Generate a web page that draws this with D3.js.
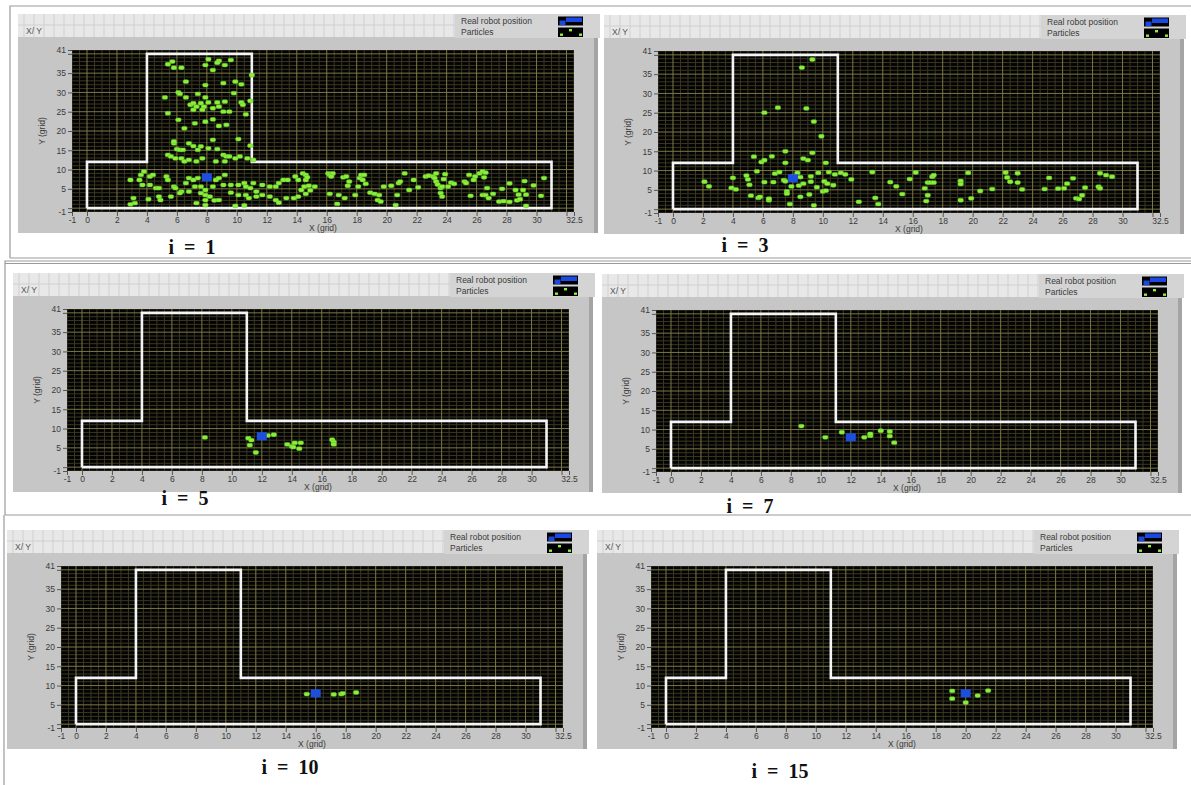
<!DOCTYPE html>
<html>
<head>
<meta charset="utf-8">
<script src="https://cdn.jsdelivr.net/npm/d3@7"></script>
<style>
  body { margin: 0; background: #fff; }
  svg { display: block; font-family: "Liberation Sans", Arial, sans-serif; }
</style>
</head>
<body>
<svg id="fig" width="1191" height="785"></svg>
<script>
// Filter iteration shown in each graph
const iterations = [1, 3, 5, 7, 10, 15];

// True robot position per iteration (grid units)
const robotX = [8, 8, 12, 12, 16, 20];
const robotY = [8, 8, 8, 8, 8, 8];

// T-shaped corridor outline (grid units)
const wallX = [0, 0, 4, 4, 11, 11, 31, 31, 0];
const wallY = [0, 12, 12, 40, 40, 12, 12, 0, 0];

// Axis tick labels
const xTickLabels = [-1, 0, 2, 4, 6, 8, 10, 12, 14, 16, 18, 20, 22, 24, 26, 28, 30, 32.5];
const yTickLabels = [-1, 5, 10, 15, 20, 25, 30, 35, 41];

// Particle sets [x, y] for each iteration
const particlesI1 = [
  [5.4,37.3],[5.7,38.0],[5.8,36.4],[6.3,36.4],[8.1,38.6],[8.8,38.2],[8.7,37.7],[9.6,38.4],[7.9,37.1],[8.4,35.8],[9.2,37.1],
  [11.0,34.5],[6.6,32.8],[7.9,31.9],[9.1,32.4],[9.9,32.8],[10.3,32.1],
  [6.1,30.0],[6.2,29.6],[5.2,28.7],[6.6,28.7],[7.4,29.6],[7.9,28.7],[8.1,27.4],[8.7,27.4],[9.2,27.6],[9.8,29.8],[10.3,27.4],[10.4,26.8],[10.9,27.8],
  [6.9,26.8],[7.1,27.2],[7.3,26.3],[7.6,27.2],[7.8,26.3],[7.1,25.5],[7.7,25.5],[8.4,25.9],[8.8,26.3],[9.1,25.0],[9.5,25.0],
  [5.4,24.6],[6.1,22.9],[6.5,20.7],[7.2,22.0],[7.9,22.4],[8.4,23.0],[8.8,21.3],[9.3,21.6],[10.6,24.3],
  [10.1,17.9],[10.9,16.2],[8.4,17.7],
  [5.8,16.8],[5.8,17.3],[6.0,15.3],[6.2,15.1],[6.4,15.1],[6.8,16.8],[7.1,16.1],[7.6,16.0],[7.4,15.1],[8.1,15.5],[8.7,15.3],
  [9.1,13.8],[9.3,13.4],[9.5,13.4],[9.9,12.9],[10.2,13.4],[10.7,12.9],[11.1,12.5],
  [5.4,13.8],[5.6,13.4],[5.9,12.9],[6.3,12.9],[6.5,12.1],[6.8,12.5],[7.3,12.1],[7.7,12.9],[8.6,12.1],[9.2,12.1],
  [2.9,7.3],[3.6,8.6],[3.8,9.5],[4.2,8.2],[4.4,8.6],[3.5,7.3],[3.7,6.0],[4.2,6.0],[4.6,5.2],[4.8,5.2],[5.3,8.2],[5.4,7.3],
  [5.8,5.6],[5.9,5.2],[6.3,4.3],[6.6,6.5],[6.8,7.8],[7.1,7.3],[7.4,7.8],[7.2,5.6],[7.6,5.6],[7.9,4.7],[8.4,5.6],[8.6,7.3],
  [8.8,7.8],[9.2,8.6],[9.1,6.0],[9.6,6.0],[10.1,6.0],[10.5,6.5],[10.6,5.6],[10.9,5.2],[11.1,6.5],[11.3,4.3],[11.7,6.0],
  [12.2,5.6],[12.6,5.6],[12.8,6.5],[13.1,7.3],[13.4,7.3],[13.9,8.2],[14.1,7.3],[14.6,7.3],
  [3.1,2.6],[3.2,1.3],[2.9,1.0],[4.1,2.3],[4.8,3.0],[4.9,2.1],[5.6,3.0],[6.2,3.9],[6.8,4.3],[7.6,3.9],[7.9,3.4],[8.2,3.0],
  [7.9,2.1],[8.5,2.0],[8.8,2.1],[9.6,4.0],[10.1,3.4],[10.6,3.4],[10.8,2.6],[11.3,3.0],[11.7,3.4],[12.2,3.0],[12.6,2.1],
  [12.8,1.4],[13.3,2.6],[13.8,2.6],[14.1,3.0],[7.3,1.3],[7.9,0.8],[9.9,0.6],[10.5,0.7],
  [14.4,9.0],[14.6,8.6],[14.7,8.0],[14.5,5.6],[14.3,4.7],[14.8,5.8],[15.2,5.6],[14.9,4.6],[14.6,3.7],
  [16.1,9.0],[16.2,8.6],[16.4,9.0],[16.3,8.2],[17.1,8.0],[17.3,8.2],[17.5,6.9],[17.4,5.8],[18.2,7.8],[18.3,8.6],[18.5,8.6],
  [18.4,7.3],[18.6,6.3],[18.1,5.6],[16.2,3.7],[16.8,3.4],[17.2,2.6],[16.7,1.1],[17.9,3.4],[18.9,4.0],[19.2,3.7],[19.5,3.4],
  [19.4,2.1],[19.6,1.7],[19.8,5.6],[20.3,5.8],[20.8,6.5],[20.9,6.9],[20.7,3.4],[20.6,0.8],[21.2,9.0],[21.5,4.7],[21.8,7.3],
  [22.1,5.4],[22.6,8.2],[22.8,8.4],[23.1,8.2],[23.3,9.0],[23.2,7.8],[23.3,6.9],[23.4,6.1],[23.6,5.2],[23.7,5.6],[23.9,8.8],
  [23.8,7.5],[24.1,5.6],[24.3,6.6],[24.5,6.3],[23.6,3.9],[23.7,3.0],[25.2,6.9],[25.3,6.5],[25.5,8.6],[25.9,8.2],[26.2,9.0],
  [26.4,9.5],[26.6,9.2],[26.5,8.0],[25.8,7.3],[25.6,3.2],[26.4,3.4],[26.6,3.4],[26.8,2.6],[27.1,3.7],[26.7,5.2],[27.7,5.0],
  [28.2,6.4],[28.6,4.7],[28.8,3.5],[29.1,4.7],[29.3,3.5],[29.2,7.0],[29.8,5.9],[30.3,3.2],[30.5,7.8],[27.5,1.7],[27.8,1.8],
  [28.2,1.6],[28.7,2.0],[28.9,2.3],[29.3,0.6]
];
const particlesI3 = [
  [9.3,38.8],[8.6,36.7],[7.0,26.3],[6.1,25.0],[8.9,26.1],[9.4,22.7],[9.9,18.9],[9.3,14.6],[7.5,15.0],[6.6,13.7],
  [5.4,13.6],[5.9,12.2],[6.1,12.7],[8.7,13.1],[9.0,12.7],[7.5,12.0],[10.2,12.0],[5.6,9.8],[6.8,9.2],[7.1,9.6],
  [2.1,7.1],[2.4,5.9],[4.0,8.1],[3.9,5.5],[4.2,5.1],[4.9,8.7],[5.0,7.7],[5.1,6.3],[6.1,7.0],[6.7,7.0],[7.4,7.5],
  [7.5,7.2],[7.6,4.6],[7.6,4.0],[5.2,3.5],[5.7,2.9],[5.8,3.2],[6.4,2.3],[6.4,2.7],[7.8,1.3],[8.0,8.5],[8.3,9.4],
  [8.5,8.3],[7.9,5.9],[8.4,6.1],[8.7,6.6],[9.2,8.5],[9.2,7.1],[9.6,5.7],[9.7,9.4],[10.4,9.6],[10.8,9.0],[11.2,9.4],
  [11.5,9.0],[11.9,7.7],[10.1,7.2],[10.3,6.6],[10.7,6.2],[10.0,4.6],[10.2,4.8],[8.5,3.2],[9.1,3.8],[9.4,1.0],
  [12.4,1.9],[13.3,9.6],[13.5,2.9],[13.7,1.3],[14.5,7.0],[14.9,5.9],
  [15.3,3.9],[15.8,7.8],[16.2,9.5],[16.8,5.4],[16.9,2.1],[17.0,3.6],[17.0,6.9],[17.2,6.9],[17.4,6.9],[17.3,8.4],
  [17.4,8.8],[19.2,7.3],[19.2,6.5],[19.2,2.3],[19.7,9.4],[19.9,2.8],[20.5,4.7],[21.3,5.2],[22.2,9.5],[22.3,8.2],
  [22.5,7.1],[23.0,9.3],[23.0,6.9],[23.3,5.1],[24.8,5.2],[25.1,8.1],[25.7,5.3],[26.1,5.4],[26.3,6.6],[26.7,8.0],
  [26.9,2.8],[27.1,2.6],[27.3,3.6],[27.5,5.6],[28.4,5.8],[28.5,5.4],[28.5,9.3],[28.9,8.8],[29.3,8.4]
];
const particlesI5 = [
  [8.2,7.7],[11.1,7.5],[11.3,7.0],[11.2,5.7],[11.6,3.8],[12.4,8.2],[12.8,8.4],[13.7,5.9],[14.0,5.4],
  [14.2,6.3],[14.6,6.3],[14.1,5.2],[14.5,4.8],[16.7,7.1],[16.8,6.5],[16.8,5.9]
];
const particlesI7 = [
  [8.7,10.9],[10.3,8.0],[11.4,9.3],[12.9,8.0],[13.3,8.4],[13.3,8.9],[14.0,9.7],[14.6,9.5],[14.6,8.3],[14.9,6.6]
];
const particlesI10 = [[15.4,7.8],[17.2,7.7],[17.7,7.8],[17.8,8.0],[18.7,8.2]];
const particlesI15 = [[19.1,8.6],[19.1,6.6],[20.0,5.6],[20.8,7.4],[21.5,8.7]];

const particleSets = [particlesI1, particlesI3, particlesI5, particlesI7, particlesI10, particlesI15];

// Graph placement on the page: plot-area origin and caption centre
const W = 502, H = 162;
const layout = [
  { px: 72,  py: 50,  cx: 192, cy: 247 },
  { px: 658, py: 51,  cx: 745, cy: 245 },
  { px: 67,  py: 309, cx: 185, cy: 498 },
  { px: 656, py: 310, cx: 750, cy: 506 },
  { px: 61,  py: 566, cx: 290, cy: 767 },
  { px: 651, py: 566, cx: 780, cy: 771 }
];

const svg = d3.select("#fig");

// Figure frames around each row
const frame = svg.append("g").attr("fill", "none").attr("stroke", "#9a9a9a").attr("stroke-width", 1.2);
frame.append("path").attr("d", "M10,258 V6 H1191");
frame.append("path").attr("d", "M10,258 H1191");
frame.append("path").attr("d", "M5,515 V261 H1191 M5,263.5 H1191 M5,515 H1191");
frame.append("path").attr("d", "M4,515 V785");

const defs = svg.append("defs");

const x = d3.scaleLinear().domain([-1, 32.5]).range([0, W]);
const y = d3.scaleLinear().domain([-1, 41]).range([H, 0]);

layout.forEach((L, k) => {
  const g = svg.append("g").attr("transform", `translate(${L.px},${L.py})`);
  const gx = -54, gr = 526;

  // Control body
  g.append("rect").attr("x", gx).attr("y", -36).attr("width", gr - gx).attr("height", H + 57)
    .attr("fill", "#c6c6c6");
  g.append("rect").attr("x", gr - 4).attr("y", -13).attr("width", 4).attr("height", H + 34)
    .attr("fill", "#a4a4a4");
  // Title strip with its faint grid
  g.append("rect").attr("x", gx).attr("y", -36).attr("width", gr - gx).attr("height", 23)
    .attr("fill", "#e8e8e8");
  const strip = g.append("g").attr("stroke", "#d0d0d0").attr("stroke-width", 1);
  d3.range(gx + 6, gr, 10).forEach(v => {
    strip.append("line").attr("x1", v).attr("x2", v).attr("y1", -36).attr("y2", -13);
  });
  strip.append("line").attr("x1", gx).attr("x2", gr).attr("y1", -25).attr("y2", -25);
  g.append("text").attr("x", gx + 8).attr("y", -16).attr("font-size", 8.5).attr("fill", "#555")
    .text("X/ Y");

  // Legend
  const lg = g.append("g").attr("transform", `translate(${W - 119},-36)`);
  lg.append("rect").attr("width", 145).attr("height", 24).attr("fill", "#d4d4d4");
  lg.append("text").attr("x", 6).attr("y", 9.5).attr("font-size", 8.5).attr("fill", "#3a3a3a").text("Real robot position");
  lg.append("text").attr("x", 6).attr("y", 21).attr("font-size", 8.5).attr("fill", "#3a3a3a").text("Particles");
  lg.append("rect").attr("x", 103).attr("y", 2.5).attr("width", 25).attr("height", 9).attr("fill", "#000");
  lg.append("rect").attr("x", 104.5).attr("y", 6.5).attr("width", 6).attr("height", 4.5).attr("fill", "#1a48e0");
  lg.append("rect").attr("x", 111).attr("y", 3.5).attr("width", 16).attr("height", 4.5).attr("fill", "#1a48e0");
  lg.append("rect").attr("x", 103).attr("y", 13.5).attr("width", 25).attr("height", 9.5).attr("fill", "#000");
  [[105, 19.5], [114, 15], [124, 19.5]].forEach(d => {
    lg.append("rect").attr("x", d[0]).attr("y", d[1]).attr("width", 3).attr("height", 2.4).attr("fill", "#8ef03c");
  });

  // Plot area
  g.append("rect").attr("width", W).attr("height", H).attr("fill", "#030303");
  const clipId = "clip" + k;
  defs.append("clipPath").attr("id", clipId).append("rect").attr("width", W).attr("height", H);
  const plot = g.append("g").attr("clip-path", `url(#${clipId})`);

  // Minor then major grid lines
  const minorX = d3.range(-1, 32.51, 0.5).filter(v => !(v >= 0 && v <= 32 && v % 2 === 0));
  const minorY = d3.range(-1, 41.01, 1).filter(v => v % 5 !== 0);
  const majorX = d3.range(0, 32.01, 2);
  const majorY = d3.range(0, 40.01, 5);
  plot.append("g").attr("stroke", "#3a3822").attr("stroke-width", 1)
    .selectAll("line").data(minorX).join("line")
    .attr("x1", d => x(d)).attr("x2", d => x(d)).attr("y1", 0).attr("y2", H);
  plot.append("g").attr("stroke", "#3a3822").attr("stroke-width", 1)
    .selectAll("line").data(minorY).join("line")
    .attr("y1", d => y(d)).attr("y2", d => y(d)).attr("x1", 0).attr("x2", W);
  plot.append("g").attr("stroke", "#7c7842").attr("stroke-width", 1)
    .selectAll("line").data(majorX).join("line")
    .attr("x1", d => x(d)).attr("x2", d => x(d)).attr("y1", 0).attr("y2", H);
  plot.append("g").attr("stroke", "#7c7842").attr("stroke-width", 1)
    .selectAll("line").data(majorY).join("line")
    .attr("y1", d => y(d)).attr("y2", d => y(d)).attr("x1", 0).attr("x2", W);

  // Corridor walls
  plot.append("path")
    .attr("d", d3.line().x(d => x(d[0])).y(d => y(d[1]))(wallX.map((v, i) => [v, wallY[i]])))
    .attr("fill", "none").attr("stroke", "#f4f4f4").attr("stroke-width", 2.6);

  // Particles
  plot.append("g").selectAll("rect").data(particleSets[k]).join("rect")
    .attr("x", d => x(d[0]) - 2.7).attr("y", d => y(d[1]) - 1.9)
    .attr("width", 5.4).attr("height", 3.8).attr("rx", 1.4)
    .attr("fill", "#8cf03a").attr("stroke", "#5fbf2a").attr("stroke-width", 0.5);

  // Robot position
  plot.append("rect")
    .attr("x", x(robotX[k]) - 5).attr("y", y(robotY[k]) - 4)
    .attr("width", 10).attr("height", 8).attr("fill", "#1c4ee0");

  // Axes
  const xAxis = d3.axisBottom(x)
    .tickValues([-1].concat(majorX, [32.5]))
    .tickSize(4).tickPadding(1)
    .tickFormat(d => xTickLabels.includes(d) ? String(d) : "");
  const yAxis = d3.axisLeft(y)
    .tickValues([-1].concat(majorY, [41]))
    .tickSize(4).tickPadding(2)
    .tickFormat(d => yTickLabels.includes(d) ? String(d) : "");
  const ax = g.append("g").attr("transform", `translate(0,${H})`).call(xAxis);
  const ay = g.append("g").call(yAxis);
  [ax, ay].forEach(a => {
    a.select(".domain").remove();
    a.selectAll("line").attr("stroke", "#555");
    a.selectAll("text").attr("fill", "#3a3a3a").attr("font-size", 8.5)
      .attr("font-family", "'Liberation Sans', Arial, sans-serif");
  });

  g.append("text").attr("x", W / 2).attr("y", H + 19).attr("text-anchor", "middle")
    .attr("font-size", 8.5).attr("fill", "#3a3a3a").text("X (grid)");
  g.append("text").attr("transform", `translate(-27,${H / 2}) rotate(-90)`).attr("text-anchor", "middle")
    .attr("font-size", 8.5).attr("fill", "#3a3a3a").text("Y (grid)");

  // Caption
  svg.append("text").attr("x", L.cx).attr("y", L.cy).attr("text-anchor", "middle")
    .attr("dominant-baseline", "central")
    .attr("font-family", "'Liberation Serif', 'Times New Roman', serif")
    .attr("font-weight", "bold").attr("font-size", 20).attr("fill", "#111")
    .text(`i\u2002=\u2002${iterations[k]}`);
});
</script>
</body>
</html>
